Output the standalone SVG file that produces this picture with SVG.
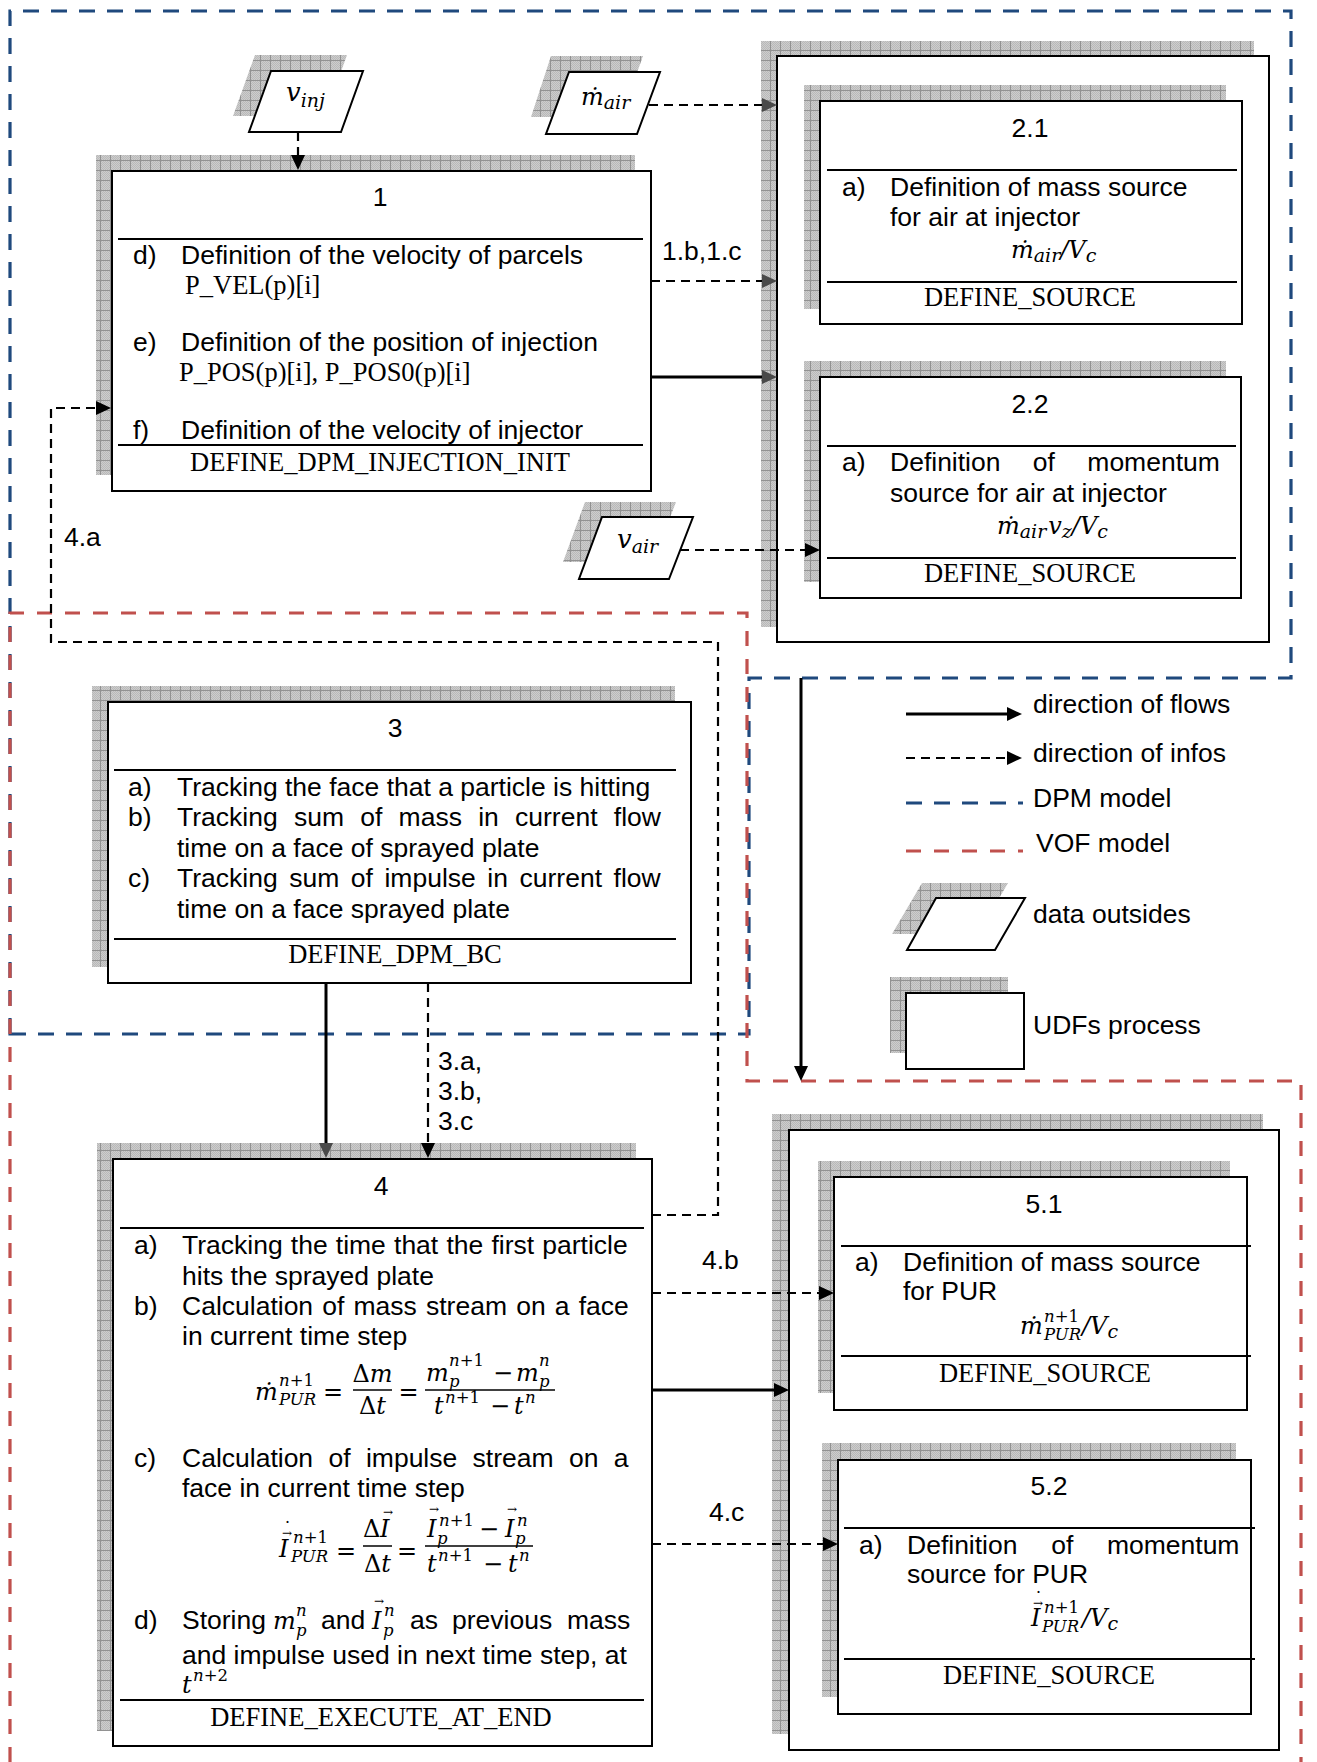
<svg xmlns="http://www.w3.org/2000/svg" width="1317" height="1762" viewBox="0 0 1317 1762">
<style>
.t{font-family:"Liberation Sans",Arial,sans-serif;font-size:26.5px;fill:#000}
.tr{font-family:"Liberation Serif","Times New Roman",serif;font-size:26.5px;fill:#000}
.m{font-family:"DejaVu Serif","Liberation Serif",serif;font-style:italic;font-size:24px;fill:#000}
.u{font-style:normal}
.s{font-size:16.5px}
.ss{font-size:19px}
.ar{font-size:12px;font-style:normal}
.dt{font-size:18px;font-style:normal}
.box{fill:#fff;stroke:#000;stroke-width:2}
.sh{fill:url(#grid);stroke:none}
.sep{stroke:#000;stroke-width:2;fill:none}
.bar{stroke:#000;stroke-width:1.5;fill:none}
.dash{stroke:#000;stroke-width:2.2;stroke-dasharray:9 6;fill:none}
.solid{stroke:#000;stroke-width:3;fill:none}
.dpm{stroke:#1f497d;stroke-width:3.2;stroke-dasharray:16 12;fill:none}
.vof{stroke:#c0504d;stroke-width:3.2;stroke-dasharray:15 13;fill:none}
.mid{text-anchor:middle}
</style>
<defs>
<pattern id="dots" patternUnits="userSpaceOnUse" width="2" height="2">
<rect width="2" height="2" fill="#cdcdcd"/>
<rect width="1" height="1" fill="#b9b9b9"/>
<rect x="1" y="1" width="1" height="1" fill="#b9b9b9"/>
</pattern>
<pattern id="grid" patternUnits="userSpaceOnUse" width="10" height="10">
<rect width="10" height="10" fill="url(#dots)"/>
<path d="M0,0.5H10M0.5,0V10" stroke="#929292" stroke-width="1"/>
</pattern>
<marker id="ah" markerUnits="userSpaceOnUse" viewBox="0 0 15 14" markerWidth="15" markerHeight="14" refX="10" refY="7" orient="auto">
<path d="M0,0L15,7L0,14Z" fill="#000"/>
</marker>
<marker id="ahg" markerUnits="userSpaceOnUse" viewBox="0 0 15 14" markerWidth="15" markerHeight="14" refX="10" refY="7" orient="auto">
<path d="M0,0L15,7L0,14Z" fill="#4a4a4a"/>
</marker>
</defs>
<rect width="1317" height="1762" fill="#fff"/>

<g id="regions">
<path id="dpm-region" class="dpm" d="M10,1034V11H1291V678H749V1034Z"/>
<path id="vof-region" class="vof" d="M10,1762V613H747V1081H1301V1762"/>
</g>

<g id="node-vinj">
<path class="sh" d="M255,55H347L325,116H233Z"/>
<path class="box" d="M271,71H363L341,132H249Z"/>
<text class="m" x="286" y="101" style="font-size:26px">v<tspan class="ss" dy="6">inj</tspan></text>
</g>

<g id="node-mair">
<path class="sh" d="M551,56H643L621,117H531Z"/>
<path class="box" d="M569,72H660L637,134H546Z"/>
<text class="m" x="581" y="105">ṁ<tspan class="ss" dy="4">air</tspan></text>
</g>

<g id="node-vair">
<path class="sh" d="M585,502H676L653,562H563Z"/>
<path class="box" d="M602,517H693L669,579H579Z"/>
<text class="m" x="617" y="548" style="font-size:26px">v<tspan class="ss" dy="5">air</tspan></text>
</g>

<g id="node-1">
<rect class="sh" x="96" y="155" width="539" height="320"/>
<rect class="box" x="112" y="171" width="539" height="320"/>
<text class="t mid" x="380" y="206">1</text>
<path class="sep" d="M118,239H643"/>
<text class="t" x="133" y="264">d)</text>
<text class="t" x="181" y="264">Definition of the velocity of parcels</text>
<text class="tr" x="185" y="294">P_VEL(p)[i]</text>
<text class="t" x="133" y="351">e)</text>
<text class="t" x="181" y="351">Definition of the position of injection</text>
<text class="tr" x="179" y="381">P_POS(p)[i], P_POS0(p)[i]</text>
<text class="t" x="133" y="439">f)</text>
<text class="t" x="181" y="439">Definition of the velocity of injector</text>
<path class="sep" d="M118,445H643"/>
<text class="tr mid" x="380" y="471">DEFINE_DPM_INJECTION_INIT</text>
</g>

<g id="node-2">
<rect class="sh" x="761" y="41" width="493" height="586"/>
<rect class="box" x="777" y="56" width="492" height="586"/>
</g>

<g id="node-2-1">
<rect class="sh" x="804" y="85" width="422" height="224"/>
<rect class="box" x="820" y="101" width="422" height="223"/>
<text class="t mid" x="1030" y="137">2.1</text>
<path class="sep" d="M827,170H1237"/>
<text class="t" x="842" y="196">a)</text>
<text class="t" x="890" y="196">Definition of mass source</text>
<text class="t" x="890" y="226">for air at injector</text>
<text class="m" x="1011" y="258">ṁ<tspan class="ss" dy="4">air</tspan><tspan dy="-4">/V</tspan><tspan class="ss" dy="4">c</tspan></text>
<path class="sep" d="M827,282H1237"/>
<text class="tr mid" x="1030" y="306">DEFINE_SOURCE</text>
</g>

<g id="node-2-2">
<rect class="sh" x="804" y="361" width="422" height="221"/>
<rect class="box" x="820" y="377" width="421" height="221"/>
<text class="t mid" x="1030" y="413">2.2</text>
<path class="sep" d="M827,446H1236"/>
<text class="t" x="842" y="471">a)</text>
<text class="t" x="890" y="471" style="word-spacing:25px">Definition of momentum</text>
<text class="t" x="890" y="502">source for air at injector</text>
<text class="m" x="997" y="534">ṁ<tspan class="ss" dy="4">air</tspan><tspan dy="-4" dx="2">v</tspan><tspan class="ss" dy="4">z</tspan><tspan dy="-4">/V</tspan><tspan class="ss" dy="4">c</tspan></text>
<path class="sep" d="M827,558H1236"/>
<text class="tr mid" x="1030" y="582">DEFINE_SOURCE</text>
</g>

<g id="node-3">
<rect class="sh" x="92" y="686" width="583" height="281"/>
<rect class="box" x="108" y="702" width="583" height="281"/>
<text class="t mid" x="395" y="737">3</text>
<path class="sep" d="M114,770H676"/>
<text class="t" x="128" y="796">a)</text>
<text class="t" x="177" y="796">Tracking the face that a particle is hitting</text>
<text class="t" x="128" y="826">b)</text>
<text class="t" x="177" y="826" style="word-spacing:8.9px">Tracking sum of mass in current flow</text>
<text class="t" x="177" y="857">time on a face of sprayed plate</text>
<text class="t" x="128" y="887">c)</text>
<text class="t" x="177" y="887" style="word-spacing:4.2px">Tracking sum of impulse in current flow</text>
<text class="t" x="177" y="918">time on a face sprayed plate</text>
<path class="sep" d="M114,939H676"/>
<text class="tr mid" x="395" y="963">DEFINE_DPM_BC</text>
</g>

<g id="node-4">
<rect class="sh" x="97" y="1143" width="539" height="588"/>
<rect class="box" x="113" y="1159" width="539" height="587"/>
<text class="t mid" x="381" y="1195">4</text>
<path class="sep" d="M120,1228H644"/>
<text class="t" x="134" y="1254">a)</text>
<text class="t" x="182" y="1254" style="word-spacing:0.8px">Tracking the time that the first particle</text>
<text class="t" x="182" y="1285">hits the sprayed plate</text>
<text class="t" x="134" y="1315">b)</text>
<text class="t" x="182" y="1315" style="word-spacing:1.8px">Calculation of mass stream on a face</text>
<text class="t" x="182" y="1345">in current time step</text>
<g id="formula-mass">
<text class="m"><tspan x="255" y="1400">ṁ</tspan><tspan class="s" x="279" y="1386">n<tspan class="u">+1</tspan></tspan><tspan class="s" x="279" y="1405">PUR</tspan></text>
<text class="m u mid" x="333" y="1400">=</text>
<path class="bar" d="M353,1390H392"/>
<text class="m mid" x="372.5" y="1382"><tspan class="u">Δ</tspan>m</text>
<text class="m mid" x="372.5" y="1414"><tspan class="u">Δ</tspan>t</text>
<text class="m u mid" x="408.5" y="1400">=</text>
<path class="bar" d="M425,1390H555"/>
<text class="m"><tspan x="426" y="1381">m</tspan><tspan class="s" x="449" y="1366">n<tspan class="u">+1</tspan></tspan><tspan class="s" x="449" y="1387">p</tspan><tspan class="u" x="493" y="1381">−</tspan><tspan x="516" y="1381">m</tspan><tspan class="s" x="539" y="1366">n</tspan><tspan class="s" x="539" y="1387">p</tspan></text>
<text class="m"><tspan x="434" y="1414">t</tspan><tspan class="s" x="445" y="1403">n<tspan class="u">+1</tspan></tspan><tspan class="u" x="490" y="1414">−</tspan><tspan x="514" y="1414">t</tspan><tspan class="s" x="525" y="1403">n</tspan></text>
</g>
<text class="t" x="134" y="1467">c)</text>
<text class="t" x="182" y="1467" style="word-spacing:8px">Calculation of impulse stream on a</text>
<text class="t" x="182" y="1497">face in current time step</text>
<g id="formula-impulse">
<text class="m"><tspan x="279" y="1557">I</tspan><tspan class="ar" x="282" y="1537">→</tspan><tspan class="dt" x="283" y="1535">˙</tspan><tspan class="s" x="293" y="1543">n<tspan class="u">+1</tspan></tspan><tspan class="s" x="291" y="1562">PUR</tspan></text>
<text class="m u mid" x="346" y="1559">=</text>
<path class="bar" d="M363,1546H392"/>
<text class="m"><tspan class="u" x="363" y="1537">Δ</tspan><tspan x="380" y="1537">I</tspan><tspan class="ar" x="383" y="1516">→</tspan></text>
<text class="m mid" x="377.5" y="1572"><tspan class="u">Δ</tspan>t</text>
<text class="m u mid" x="407" y="1559">=</text>
<path class="bar" d="M425,1546H533"/>
<text class="m"><tspan x="427" y="1537">I</tspan><tspan class="ar" x="429" y="1513">→</tspan><tspan class="s" x="439" y="1526">n<tspan class="u">+1</tspan></tspan><tspan class="s" x="437" y="1544">p</tspan><tspan class="u" x="479" y="1537">−</tspan><tspan x="505" y="1537">I</tspan><tspan class="ar" x="507" y="1513">→</tspan><tspan class="s" x="517" y="1526">n</tspan><tspan class="s" x="515" y="1544">p</tspan></text>
<text class="m"><tspan x="427" y="1572">t</tspan><tspan class="s" x="438" y="1561">n<tspan class="u">+1</tspan></tspan><tspan class="u" x="483" y="1572">−</tspan><tspan x="508" y="1572">t</tspan><tspan class="s" x="519" y="1561">n</tspan></text>
</g>
<text class="t" x="134" y="1629">d)</text>
<text class="t" x="182" y="1629">Storing</text>
<text class="m"><tspan x="273" y="1629">m</tspan><tspan class="s" x="296" y="1616">n</tspan><tspan class="s" x="296" y="1636">p</tspan></text>
<text class="t" x="321" y="1629">and</text>
<text class="m"><tspan x="372" y="1629">I</tspan><tspan class="ar" x="374" y="1605">→</tspan><tspan class="s" x="384" y="1616">n</tspan><tspan class="s" x="383" y="1636">p</tspan></text>
<text class="t" x="410" y="1629">as</text>
<text class="t" x="452" y="1629">previous</text>
<text class="t" x="567" y="1629">mass</text>
<text class="t" x="182" y="1664">and impulse used in next time step, at</text>
<text class="m"><tspan x="182" y="1693">t</tspan><tspan class="s" x="193" y="1681">n<tspan class="u">+2</tspan></tspan></text>
<path class="sep" d="M120,1700H644"/>
<text class="tr mid" x="381" y="1726">DEFINE_EXECUTE_AT_END</text>
</g>

<g id="node-5">
<rect class="sh" x="772" y="1114" width="491" height="620"/>
<rect class="box" x="789" y="1130" width="490" height="620"/>
</g>

<g id="node-5-1">
<rect class="sh" x="818" y="1161" width="412" height="232"/>
<rect class="box" x="834" y="1177" width="413" height="233"/>
<text class="t mid" x="1044" y="1213">5.1</text>
<path class="sep" d="M841,1246H1251"/>
<text class="t" x="855" y="1271">a)</text>
<text class="t" x="903" y="1271">Definition of mass source</text>
<text class="t" x="903" y="1300">for PUR</text>
<text class="m"><tspan x="1020" y="1334">ṁ</tspan><tspan class="s" x="1044" y="1322">n<tspan class="u">+1</tspan></tspan><tspan class="s" x="1044" y="1340">PUR</tspan><tspan x="1082" y="1334">/V</tspan><tspan class="ss" dy="4">c</tspan></text>
<path class="sep" d="M841,1356H1251"/>
<text class="tr mid" x="1045" y="1382">DEFINE_SOURCE</text>
</g>

<g id="node-5-2">
<rect class="sh" x="822" y="1443" width="414" height="254"/>
<rect class="box" x="838" y="1460" width="413" height="254"/>
<text class="t mid" x="1049" y="1495">5.2</text>
<path class="sep" d="M844,1528H1255"/>
<text class="t" x="859" y="1554">a)</text>
<text class="t" x="907" y="1554" style="word-spacing:26.3px">Definition of momentum</text>
<text class="t" x="907" y="1583">source for PUR</text>
<text class="m"><tspan x="1031" y="1626">I</tspan><tspan class="ar" x="1033" y="1607">→</tspan><tspan class="dt" x="1034" y="1605">˙</tspan><tspan class="s" x="1044" y="1613">n<tspan class="u">+1</tspan></tspan><tspan class="s" x="1042" y="1632">PUR</tspan><tspan x="1082" y="1626">/V</tspan><tspan class="ss" dy="4">c</tspan></text>
<path class="sep" d="M844,1659H1255"/>
<text class="tr mid" x="1049" y="1684">DEFINE_SOURCE</text>
</g>

<g id="connectors">
<path class="dash" d="M298,132V165" marker-end="url(#ah)"/>
<path class="dash" d="M649,105H772" marker-end="url(#ahg)"/>
<path class="dash" d="M651,281H772" marker-end="url(#ahg)"/>
<path class="solid" d="M651,377H772" marker-end="url(#ahg)"/>
<path class="dash" d="M680,550H815" marker-end="url(#ah)"/>
<path class="dash" d="M652,1215H718V642H51V408H106" marker-end="url(#ah)"/>
<path class="solid" d="M326,983V1153" marker-end="url(#ahg)"/>
<path class="dash" d="M428,983V1153" marker-end="url(#ah)"/>
<path class="solid" d="M801,678V1076" marker-end="url(#ah)"/>
<path class="dash" d="M652,1293H829" marker-end="url(#ah)"/>
<path class="solid" d="M652,1390H784" marker-end="url(#ah)"/>
<path class="dash" d="M652,1544H833" marker-end="url(#ah)"/>
<text class="t" x="662" y="260">1.b,1.c</text>
<text class="t" x="64" y="546">4.a</text>
<text class="t" x="438" y="1070">3.a,</text>
<text class="t" x="438" y="1100">3.b,</text>
<text class="t" x="438" y="1130">3.c</text>
<text class="t" x="702" y="1269">4.b</text>
<text class="t" x="709" y="1521">4.c</text>
</g>

<g id="legend">
<path class="solid" d="M906,714H1017" marker-end="url(#ah)"/>
<text class="t" x="1033" y="713">direction of flows</text>
<path class="dash" d="M906,758H1017" marker-end="url(#ah)"/>
<text class="t" x="1033" y="762">direction of infos</text>
<path class="dpm" d="M906,803H1023"/>
<text class="t" x="1033" y="807">DPM model</text>
<path class="vof" d="M906,851H1023"/>
<text class="t" x="1036" y="852">VOF model</text>
<path class="sh" d="M922,883H1008L978,934H892Z"/>
<path class="box" d="M936,898H1025L995,950H907Z"/>
<text class="t" x="1033" y="923">data outsides</text>
<rect class="sh" x="890" y="977" width="118" height="76"/>
<rect class="box" x="906" y="993" width="118" height="76"/>
<text class="t" x="1033" y="1034">UDFs process</text>
</g>
</svg>
